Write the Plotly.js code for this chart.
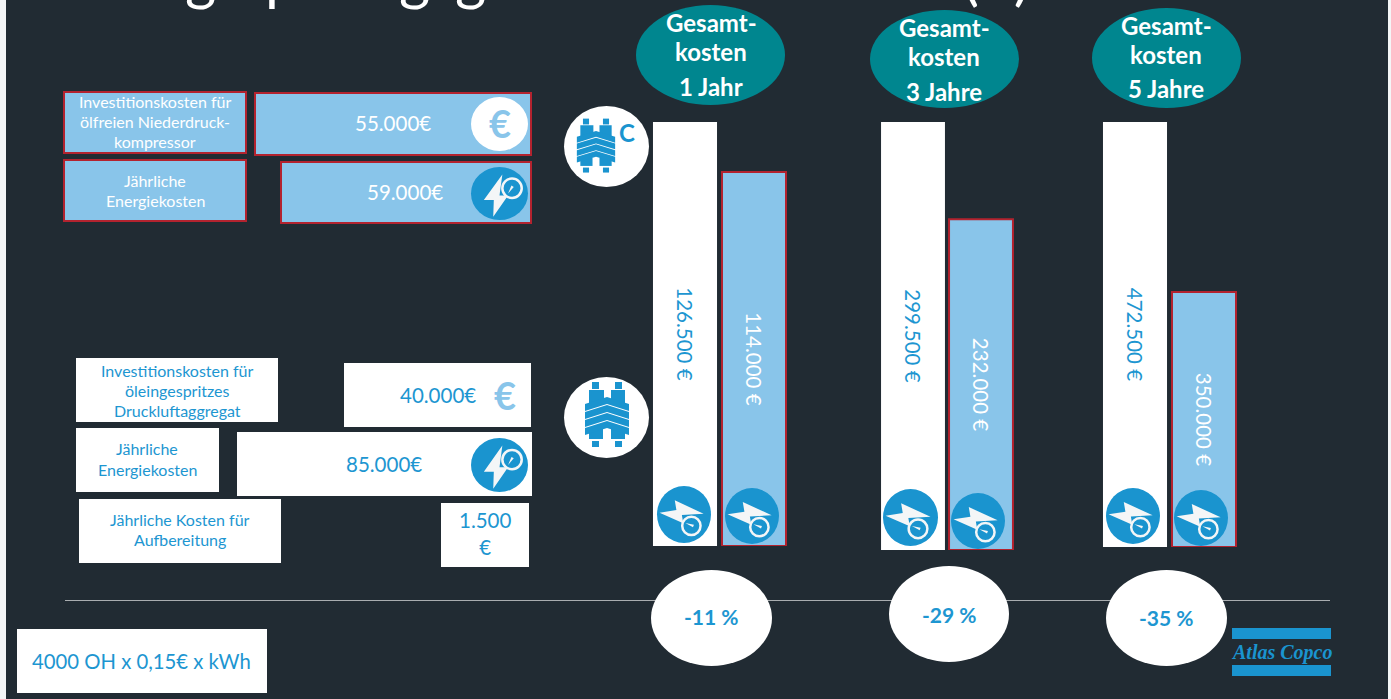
<!DOCTYPE html>
<html><head><meta charset="utf-8">
<script src="https://cdn.plot.ly/plotly-3.0.1.min.js"></script>
<style>html,body{margin:0;padding:0;background:#fff}#c{width:1391px;height:699px}</style></head>
<body><div id="c"></div>
<script>
// ---- data ----
const variants = ["öleingespritzt", "ölfrei"];
const periods = ["1 Jahr", "3 Jahre", "5 Jahre"];
// Bar heights as drawn, in % of the tallest bar of each panel
const heightOilInjected = [100, 100, 100];
const heightOilFree = [88.2, 77.3, 60];
const labelsOilInjected = ["126.500 €", "299.500 €", "472.500 €"];
const labelsOilFree = ["114.000 €", "232.000 €", "350.000 €"];
const savings = ["-11 %", "-29 %", "-35 %"];

const W = 1391, H = 699;
const BG = "#212b33", LIGHT = "#89c5ea", RED = "#b3232f", TXT = "#1d96d1", TEAL = "#00868f", ICON = "#1a94cf", SOFT = "#f4f6f7";
const X = x => x / W, Y = y => 1 - y / H;

// panel geometry
const panels = [
  {x0: 650.5, x1: 788.5, top: 122, bottom: 546, gap: 0.072},
  {x0: 879, x1: 1015, top: 122, bottom: 550, gap: 0.06},
  {x0: 1100.5, x1: 1238.5, top: 122, bottom: 547, gap: 0.072}
];

const traces = [], layout = {
  width: W, height: H, margin: {l: 0, r: 0, t: 0, b: 0}, showlegend: false,
  paper_bgcolor: BG, plot_bgcolor: "rgba(0,0,0,0)", font: {family: "Lato, sans-serif"},
  barmode: "group", shapes: [], annotations: []
};
panels.forEach((p, i) => {
  const s = i ? String(i + 1) : "";
  layout["xaxis" + s] = {domain: [X(p.x0), X(p.x1)], anchor: "y" + s, type: "category", visible: false, fixedrange: true, range: [-0.5, 1.5]};
  layout["yaxis" + s] = {domain: [Y(p.bottom), Y(p.top)], anchor: "x" + s, visible: false, fixedrange: true, range: [0, 100]};
  const w = 1 - p.gap;
  traces.push({
    type: "bar", xaxis: "x" + s, yaxis: "y" + s, x: variants,
    y: [heightOilInjected[i], heightOilFree[i]], width: [w, w],
    text: [labelsOilInjected[i], labelsOilFree[i]], textposition: "inside", insidetextanchor: "middle",
    textangle: 90, constraintext: "none", cliponaxis: false, hoverinfo: "skip",
    insidetextfont: {family: "Lato, sans-serif", size: 20.5, color: [TXT, "#ffffff"]},
    marker: {color: ["#ffffff", LIGHT], line: {color: ["#ffffff", RED], width: [0, 2]}}
  });
});

// ---- drawing helpers ----
function rect(x0, y0, x1, y1, fill, line, layer) {
  layout.shapes.push({type: "rect", xref: "paper", yref: "paper", x0: X(x0), x1: X(x1), y0: Y(y0), y1: Y(y1),
    fillcolor: fill, line: line ? {color: line, width: 2} : {width: 0}, layer: layer || "below"});
}
function ell(x0, y0, x1, y1, fill, layer, line, lw) {
  layout.shapes.push({type: "circle", xref: "paper", yref: "paper", x0: X(x0), x1: X(x1), y0: Y(y0), y1: Y(y1),
    fillcolor: fill, line: line ? {color: line, width: lw || 2} : {width: 0}, layer: layer || "below"});
}
function poly(pts, fill, layer) {
  const d = pts.map((p, i) => (i ? "L" : "M") + X(p[0]).toFixed(5) + "," + Y(p[1]).toFixed(5)).join("") + "Z";
  layout.shapes.push({type: "path", xref: "paper", yref: "paper", path: d, fillcolor: fill, line: {width: 0}, layer: layer || "below"});
}
function txt(x, y, s, size, color, family) {
  layout.annotations.push({xref: "paper", yref: "paper", x: X(x), y: Y(y), text: s, showarrow: false,
    xanchor: "center", yanchor: "middle", font: {family: family || "Lato, sans-serif", size: size, color: color}, align: "center"});
}
function lines(x, y0, arr, color) { arr.forEach((s, i) => txt(x, y0 + i * 20.2, s, 16, color)); }

// ---- slide frame ----
rect(0, 0, 6, 699, SOFT);
rect(1388, 0, 1391, 699, SOFT);

// remains of the slide title: only these descenders are visible at the top edge
[["g", 200], ["p", 282], ["g", 414], ["g", 471], ["(€)", 996]].forEach(g => txt(g[1], -24, g[0], 60, "#ffffff"));

// ---- left-hand boxes ----
rect(64, 92, 246, 153, LIGHT, RED);
rect(255, 93, 531, 155, LIGHT, RED);
rect(64, 160, 246, 221, LIGHT, RED);
rect(281, 162, 531, 223, LIGHT, RED);
rect(76, 358, 278, 422, "#ffffff");
rect(344, 363, 531, 427, "#ffffff");
rect(76, 428, 219, 492, "#ffffff");
rect(237, 432, 532, 496, "#ffffff");
rect(79, 499, 281, 563, "#ffffff");
rect(441, 503, 529, 567, "#ffffff");
rect(17, 629, 267, 693, "#ffffff");

lines(155, 101, ["Investitionskosten für", "ölfreien Niederdruck-", "kompressor"], "#ffffff");
lines(155, 180, ["Jährliche", "Energiekosten"], "#ffffff");
txt(393, 123, "55.000€", 20.5, "#ffffff");
txt(405, 192, "59.000€", 20.5, "#ffffff");
lines(177, 370, ["Investitionskosten für", "öleingespritzes", "Druckluftaggregat"], TXT);
lines(147, 449, ["Jährliche", "Energiekosten"], TXT);
lines(180, 519.5, ["Jährliche Kosten für", "Aufbereitung"], TXT);
txt(438, 394.5, "40.000€", 20.5, TXT);
txt(384, 463.5, "85.000€", 20.5, TXT);
txt(485, 533, "1.500<br>€", 20.5, TXT);
txt(141, 661, "4000 OH x 0,15€ x kWh", 20.3, TXT);

// ---- compressor icons ----
function compressor(cx, cy, kx, ky) {
  const o = (x, y) => [cx + x * kx, cy + y * ky];
  const sq = (x0, y0, x1, y1) => poly([o(x0, y0), o(x1, y0), o(x1, y1), o(x0, y1)], ICON, "above");
  sq(-15, -33, -8, -26); sq(8, -33, 15, -26);
  sq(-15, 26, -8, 32); sq(8, 26, 15, 32);
  sq(-18, -25, -3, -12); sq(4, -25, 18, -12);
  sq(-18, 14, -4, 24); sq(4, 14, 18, 24);
  [-18, -10, -2, 6].forEach(y => poly([o(-22, y + 7), o(0, y), o(22, y + 7), o(22, y + 14), o(0, y + 7), o(-22, y + 14)], ICON, "above"));
}
ell(564, 106, 649, 187, "#ffffff", "above");
compressor(596, 146, 0.87, 0.83);
txt(627, 132, "<b>C</b>", 24, ICON);
ell(564, 377, 649, 458, "#ffffff", "above");
compressor(607, 415, 1, 1);

// ---- euro and energy icons ----
ell(471, 97, 528, 151, "#ffffff", "above");
txt(499.5, 123, "<b>€</b>", 38, LIGHT);
txt(505, 395, "<b>€</b>", 38, LIGHT);

function bolt(cx, cy, rx, ry, rot) {
  // lightning bolt with a gauge, described upright and turned by rot degrees
  const a = rot * Math.PI / 180, ca = Math.cos(a), sa = Math.sin(a);
  const t = (x, y) => [cx + (x * ca - y * sa) * rx, cy + (x * sa + y * ca) * ry];
  poly([t(.1, -.72), t(-.55, .25), t(-.2, .25), t(-.22, .88), t(.3, .08), t(.0, .08)], SOFT, "above");
  const g = t(.44, -.2), r = 0.34 * rx;
  ell(g[0] - r, g[1] - r, g[0] + r, g[1] + r, ICON, "above", SOFT, 2.5);
  poly([t(.3, 0), t(.5, -.25), t(.42, -.3)], SOFT, "above");
}
function energy(x0, y0, x1, y1, rot) {
  ell(x0, y0, x1, y1, ICON, "above");
  bolt((x0 + x1) / 2, (y0 + y1) / 2, (x1 - x0) / 2, (y1 - y0) / 2, rot);
}
energy(471, 167, 528, 220, 0);
energy(471, 438, 528, 492, 0);
[[657, 486, 711, 543], [725, 488, 779, 544], [883, 489, 938, 546], [951, 493, 1005, 549], [1106, 488, 1160, 544], [1174, 490, 1228, 546]]
  .forEach(b => energy(b[0], b[1], b[2], b[3], 80));

// ---- period ellipses ----
[[636, 5, 785, 105, 711, 23], [870, 10, 1019, 108, 944, 27.5], [1092, 8, 1241, 108, 1166, 25.5]].forEach((e, i) => {
  ell(e[0], e[1], e[2], e[3], TEAL, "above");
  txt(e[4], e[5], "<b>Gesamt-</b>", 24, "#ffffff");
  txt(e[4], e[5] + 29, "<b>kosten</b>", 24, "#ffffff");
  txt(e[4], e[5] + 63.5, "<b>" + periods[i] + "</b>", 24, "#ffffff");
});

// ---- divider, savings ----
layout.shapes.push({type: "line", xref: "paper", yref: "paper", x0: X(65), x1: X(1330), y0: Y(600.5), y1: Y(600.5), line: {color: "#a9adb0", width: 1}, layer: "below"});
[[651, 570, 772, 666, 711.5, 616], [889, 566, 1009, 662, 949, 614.5], [1106, 570, 1227, 666, 1166.5, 617]].forEach((e, i) => {
  ell(e[0], e[1], e[2], e[3], "#ffffff", "above");
  txt(e[4], e[5], "<b>" + savings[i] + "</b>", 21, TXT);
});

// ---- logo ----
rect(1232, 628, 1331, 639, ICON);
rect(1232, 665, 1331, 676, ICON);
txt(1281, 652, "<b><i>Atlas Copco</i></b>", 20, ICON, "Liberation Serif, serif");

Plotly.newPlot("c", traces, layout, {displayModeBar: false, staticPlot: true});
</script></body></html>
